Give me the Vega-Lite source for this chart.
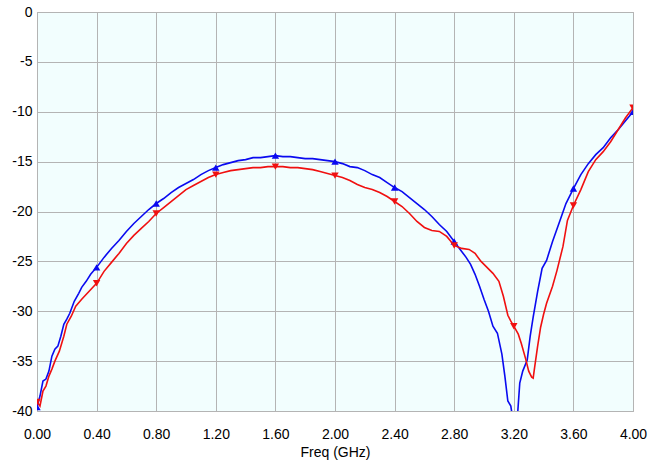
{
  "$schema": "https://vega.github.io/schema/vega-lite/v6.json",
  "autosize": "none",
  "width": 596,
  "height": 399,
  "padding": {"left": 37, "top": 12, "right": 25, "bottom": 57},
  "background": "white",
  "config": {
    "view": {"fill": "#f2fefe", "stroke": "#a8a8a8", "strokeWidth": 1},
    "font": "Liberation Sans",
    "axis": {"gridColor": "#b4b4b4", "gridWidth": 1, "gridOpacity": 1, "domain": false, "ticks": false, "labelColor": "#000", "labelFontSize": 14, "labelFont": "Liberation Sans", "labelFlush": false, "labelBound": false, "labelOverlap": false}
  },
  "datasets": {
    "lines": [
      {"f":0.00,"s":"b","v":-39.6},{"f":0.02,"s":"b","v":-38.5},{"f":0.04,"s":"b","v":-37.0},{"f":0.06,"s":"b","v":-36.8},{"f":0.08,"s":"b","v":-36.0},{"f":0.10,"s":"b","v":-34.5},{"f":0.12,"s":"b","v":-33.8},{"f":0.14,"s":"b","v":-33.5},{"f":0.16,"s":"b","v":-32.5},{"f":0.18,"s":"b","v":-31.3},{"f":0.20,"s":"b","v":-30.8},{"f":0.22,"s":"b","v":-30.2},{"f":0.25,"s":"b","v":-29.0},{"f":0.28,"s":"b","v":-28.2},{"f":0.30,"s":"b","v":-27.6},{"f":0.33,"s":"b","v":-27.0},{"f":0.36,"s":"b","v":-26.3},{"f":0.40,"s":"b","v":-25.6},{"f":0.45,"s":"b","v":-24.6},{"f":0.50,"s":"b","v":-23.7},{"f":0.55,"s":"b","v":-22.9},{"f":0.60,"s":"b","v":-22.0},{"f":0.65,"s":"b","v":-21.2},{"f":0.70,"s":"b","v":-20.5},{"f":0.75,"s":"b","v":-19.8},{"f":0.80,"s":"b","v":-19.2},{"f":0.85,"s":"b","v":-18.7},{"f":0.90,"s":"b","v":-18.1},{"f":0.95,"s":"b","v":-17.6},{"f":1.00,"s":"b","v":-17.2},{"f":1.05,"s":"b","v":-16.8},{"f":1.10,"s":"b","v":-16.3},{"f":1.15,"s":"b","v":-15.9},{"f":1.20,"s":"b","v":-15.6},{"f":1.25,"s":"b","v":-15.3},{"f":1.30,"s":"b","v":-15.1},{"f":1.35,"s":"b","v":-14.9},{"f":1.40,"s":"b","v":-14.8},{"f":1.45,"s":"b","v":-14.6},{"f":1.50,"s":"b","v":-14.6},{"f":1.55,"s":"b","v":-14.5},{"f":1.60,"s":"b","v":-14.4},{"f":1.65,"s":"b","v":-14.5},{"f":1.70,"s":"b","v":-14.5},{"f":1.75,"s":"b","v":-14.6},{"f":1.80,"s":"b","v":-14.7},{"f":1.85,"s":"b","v":-14.7},{"f":1.90,"s":"b","v":-14.8},{"f":1.95,"s":"b","v":-14.9},{"f":2.00,"s":"b","v":-15.0},{"f":2.05,"s":"b","v":-15.2},{"f":2.10,"s":"b","v":-15.5},{"f":2.15,"s":"b","v":-15.6},{"f":2.20,"s":"b","v":-15.9},{"f":2.25,"s":"b","v":-16.3},{"f":2.30,"s":"b","v":-16.6},{"f":2.35,"s":"b","v":-17.1},{"f":2.40,"s":"b","v":-17.6},{"f":2.45,"s":"b","v":-18.0},{"f":2.50,"s":"b","v":-18.6},{"f":2.55,"s":"b","v":-19.2},{"f":2.60,"s":"b","v":-19.8},{"f":2.65,"s":"b","v":-20.5},{"f":2.70,"s":"b","v":-21.3},{"f":2.75,"s":"b","v":-22.0},{"f":2.80,"s":"b","v":-23.0},{"f":2.84,"s":"b","v":-23.8},{"f":2.88,"s":"b","v":-24.6},{"f":2.91,"s":"b","v":-25.3},{"f":2.94,"s":"b","v":-26.3},{"f":2.97,"s":"b","v":-27.5},{"f":3.00,"s":"b","v":-28.8},{"f":3.03,"s":"b","v":-30.0},{"f":3.06,"s":"b","v":-31.5},{"f":3.09,"s":"b","v":-32.2},{"f":3.12,"s":"b","v":-34.3},{"f":3.14,"s":"b","v":-36.5},{"f":3.16,"s":"b","v":-39.0},{"f":3.18,"s":"b","v":-39.5},{"f":3.20,"s":"b","v":-41.5},{"f":3.22,"s":"b","v":-41.5},{"f":3.24,"s":"b","v":-37.2},{"f":3.26,"s":"b","v":-36.0},{"f":3.29,"s":"b","v":-34.9},{"f":3.31,"s":"b","v":-32.5},{"f":3.33,"s":"b","v":-30.6},{"f":3.36,"s":"b","v":-28.0},{"f":3.39,"s":"b","v":-25.7},{"f":3.42,"s":"b","v":-24.9},{"f":3.46,"s":"b","v":-23.0},{"f":3.51,"s":"b","v":-20.9},{"f":3.55,"s":"b","v":-19.2},{"f":3.60,"s":"b","v":-17.7},{"f":3.65,"s":"b","v":-16.3},{"f":3.70,"s":"b","v":-15.2},{"f":3.75,"s":"b","v":-14.3},{"f":3.80,"s":"b","v":-13.6},{"f":3.85,"s":"b","v":-12.6},{"f":3.90,"s":"b","v":-11.8},{"f":3.95,"s":"b","v":-10.9},{"f":4.00,"s":"b","v":-10.0},
      {"f":0.00,"s":"r","v":-39.1},{"f":0.02,"s":"r","v":-39.5},{"f":0.04,"s":"r","v":-38.0},{"f":0.06,"s":"r","v":-37.5},{"f":0.08,"s":"r","v":-36.5},{"f":0.10,"s":"r","v":-35.8},{"f":0.12,"s":"r","v":-35.0},{"f":0.15,"s":"r","v":-34.0},{"f":0.18,"s":"r","v":-32.5},{"f":0.20,"s":"r","v":-31.3},{"f":0.23,"s":"r","v":-30.5},{"f":0.26,"s":"r","v":-29.5},{"f":0.30,"s":"r","v":-28.8},{"f":0.35,"s":"r","v":-28.0},{"f":0.40,"s":"r","v":-27.2},{"f":0.45,"s":"r","v":-26.0},{"f":0.50,"s":"r","v":-25.1},{"f":0.55,"s":"r","v":-24.2},{"f":0.60,"s":"r","v":-23.2},{"f":0.65,"s":"r","v":-22.4},{"f":0.70,"s":"r","v":-21.7},{"f":0.75,"s":"r","v":-21.0},{"f":0.80,"s":"r","v":-20.2},{"f":0.85,"s":"r","v":-19.6},{"f":0.90,"s":"r","v":-19.0},{"f":0.95,"s":"r","v":-18.4},{"f":1.00,"s":"r","v":-17.8},{"f":1.05,"s":"r","v":-17.4},{"f":1.10,"s":"r","v":-17.0},{"f":1.15,"s":"r","v":-16.6},{"f":1.20,"s":"r","v":-16.3},{"f":1.25,"s":"r","v":-16.1},{"f":1.30,"s":"r","v":-15.9},{"f":1.35,"s":"r","v":-15.8},{"f":1.40,"s":"r","v":-15.7},{"f":1.45,"s":"r","v":-15.6},{"f":1.50,"s":"r","v":-15.6},{"f":1.55,"s":"r","v":-15.5},{"f":1.60,"s":"r","v":-15.5},{"f":1.65,"s":"r","v":-15.5},{"f":1.70,"s":"r","v":-15.6},{"f":1.75,"s":"r","v":-15.6},{"f":1.80,"s":"r","v":-15.7},{"f":1.85,"s":"r","v":-15.8},{"f":1.90,"s":"r","v":-16.0},{"f":1.95,"s":"r","v":-16.2},{"f":2.00,"s":"r","v":-16.4},{"f":2.05,"s":"r","v":-16.6},{"f":2.10,"s":"r","v":-16.9},{"f":2.15,"s":"r","v":-17.3},{"f":2.20,"s":"r","v":-17.6},{"f":2.25,"s":"r","v":-17.8},{"f":2.30,"s":"r","v":-18.1},{"f":2.35,"s":"r","v":-18.5},{"f":2.40,"s":"r","v":-19.0},{"f":2.45,"s":"r","v":-19.5},{"f":2.50,"s":"r","v":-20.2},{"f":2.55,"s":"r","v":-21.0},{"f":2.60,"s":"r","v":-21.6},{"f":2.65,"s":"r","v":-21.9},{"f":2.70,"s":"r","v":-22.0},{"f":2.75,"s":"r","v":-22.5},{"f":2.80,"s":"r","v":-23.4},{"f":2.85,"s":"r","v":-23.7},{"f":2.90,"s":"r","v":-23.8},{"f":2.94,"s":"r","v":-24.2},{"f":2.98,"s":"r","v":-25.0},{"f":3.02,"s":"r","v":-25.6},{"f":3.06,"s":"r","v":-26.2},{"f":3.10,"s":"r","v":-27.0},{"f":3.13,"s":"r","v":-28.5},{"f":3.16,"s":"r","v":-30.4},{"f":3.18,"s":"r","v":-31.0},{"f":3.20,"s":"r","v":-31.5},{"f":3.23,"s":"r","v":-32.3},{"f":3.25,"s":"r","v":-33.2},{"f":3.28,"s":"r","v":-34.8},{"f":3.30,"s":"r","v":-36.0},{"f":3.32,"s":"r","v":-36.6},{"f":3.33,"s":"r","v":-36.7},{"f":3.34,"s":"r","v":-35.6},{"f":3.36,"s":"r","v":-33.5},{"f":3.38,"s":"r","v":-31.6},{"f":3.40,"s":"r","v":-30.3},{"f":3.42,"s":"r","v":-29.2},{"f":3.46,"s":"r","v":-27.5},{"f":3.49,"s":"r","v":-25.9},{"f":3.53,"s":"r","v":-23.5},{"f":3.56,"s":"r","v":-20.9},{"f":3.60,"s":"r","v":-19.4},{"f":3.65,"s":"r","v":-17.8},{"f":3.70,"s":"r","v":-16.0},{"f":3.75,"s":"r","v":-14.8},{"f":3.80,"s":"r","v":-14.0},{"f":3.85,"s":"r","v":-13.0},{"f":3.90,"s":"r","v":-11.8},{"f":3.95,"s":"r","v":-10.6},{"f":4.00,"s":"r","v":-9.6}
    ],
    "markers": [
      {"f":0.0,"s":"b","v":-39.6},{"f":0.4,"s":"b","v":-25.6},{"f":0.8,"s":"b","v":-19.2},{"f":1.2,"s":"b","v":-15.6},{"f":1.6,"s":"b","v":-14.4},{"f":2.0,"s":"b","v":-15.0},{"f":2.4,"s":"b","v":-17.6},{"f":2.8,"s":"b","v":-23.0},{"f":3.2,"s":"b","v":-41.5},{"f":3.6,"s":"b","v":-17.7},{"f":4.0,"s":"b","v":-10.0},
      {"f":0.0,"s":"r","v":-39.1},{"f":0.4,"s":"r","v":-27.2},{"f":0.8,"s":"r","v":-20.2},{"f":1.2,"s":"r","v":-16.3},{"f":1.6,"s":"r","v":-15.5},{"f":2.0,"s":"r","v":-16.4},{"f":2.4,"s":"r","v":-19.0},{"f":2.8,"s":"r","v":-23.4},{"f":3.2,"s":"r","v":-31.5},{"f":3.6,"s":"r","v":-19.4},{"f":4.0,"s":"r","v":-9.6}
    ]
  },
  "encoding": {
    "x": {"field": "f", "type": "quantitative", "scale": {"domain": [0, 4], "nice": false},
      "axis": {"values": [0, 0.4, 0.8, 1.2, 1.6, 2.0, 2.4, 2.8, 3.2, 3.6, 4.0], "format": ".2f", "title": "Freq (GHz)", "titleFontSize": 14, "titleFontWeight": "normal", "titleColor": "#000", "titleFont": "Liberation Sans", "labelPadding": 16, "titlePadding": 4}},
    "y": {"field": "v", "type": "quantitative", "scale": {"domain": [-40, 0], "nice": false},
      "axis": {"values": [0, -5, -10, -15, -20, -25, -30, -35, -40], "labelExpr": "replace(format(datum.value, 'd'), '\u2212', '-')", "title": null, "labelPadding": 5}},
    "color": {"field": "s", "type": "nominal", "scale": {"domain": ["b", "r"], "range": ["#0a0af0", "#f01010"]}, "legend": null}
  },
  "layer": [
    {"data": {"name": "lines"}, "mark": {"type": "line", "strokeWidth": 1.6, "clip": true}},
    {"data": {"name": "markers"}, "transform": [{"filter": "datum.s == 'b'"}], "mark": {"type": "point", "shape": "triangle-up", "filled": true, "size": 55, "opacity": 1, "clip": true}},
    {"data": {"name": "markers"}, "transform": [{"filter": "datum.s == 'r'"}], "mark": {"type": "point", "shape": "triangle-down", "filled": true, "size": 55, "opacity": 1, "clip": true}}
  ]
}
